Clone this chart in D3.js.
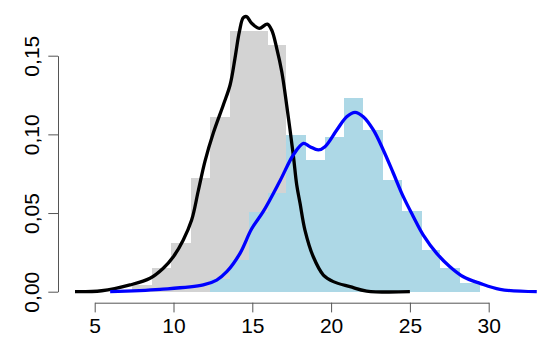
<!DOCTYPE html>
<html>
<head>
<meta charset="utf-8">
<script src="https://cdn.jsdelivr.net/npm/d3@7"></script>
<style>
  body { margin: 0; background: #fff; }
  .axis text { font: 21px "Liberation Sans", Arial, sans-serif; fill: #000; }
  .axis path, .axis line { stroke: #555; stroke-width: 1px; }
</style>
</head>
<body>
<svg id="chart" width="549" height="342"></svg>
<script>
// histogram breaks and densities
var grayBreaks  = [7.37, 8.62, 9.87, 11.08, 12.31, 13.57, 14.76, 16.0, 17.14, 18.41, 19.6, 20.81];
var grayDensity = [0.004, 0.0149, 0.0308, 0.072, 0.111, 0.166, 0.166, 0.157, 0.06, 0.015, 0.005];

var blueBreaks  = [12.31, 13.57, 14.76, 16.0, 17.14, 18.41, 19.6, 20.81, 22.04, 23.27, 24.48, 25.75, 26.94, 28.17, 29.45];
var blueDensity = [0.008, 0.020, 0.0508, 0.0625, 0.0996, 0.0837, 0.0985, 0.123, 0.103, 0.071, 0.0513, 0.0265, 0.0149, 0.0053];

// kernel density curves, traced
var grayCurveX = [3.75, 5.44, 7.24, 8.51, 9.35, 9.99, 10.62, 11.15, 11.57, 12.0, 12.53, 13.16, 13.59, 13.9, 14.18, 14.43, 14.64, 14.96, 15.44, 15.95, 16.23, 16.55, 16.87, 17.18, 17.6, 17.82, 18.03, 18.34, 18.87, 19.51, 20.14, 21.2, 22.26, 25.0];
var grayCurveY = [0, 0.0006, 0.0043, 0.0085, 0.0149, 0.0222, 0.0329, 0.0455, 0.0640, 0.0830, 0.1010, 0.1187, 0.1314, 0.1483, 0.1653, 0.1742, 0.1748, 0.1706, 0.1674, 0.170, 0.1663, 0.1547, 0.1398, 0.1187, 0.0869, 0.0678, 0.0562, 0.0392, 0.0222, 0.0106, 0.0064, 0.0032, 0.0004, 0];

var blueCurveX = [5.98, 9.14, 11.89, 12.74, 13.38, 14.22, 14.96, 15.7, 16.76, 17.6, 18.24, 18.66, 19.19, 19.61, 20.36, 20.99, 21.52, 22.04, 22.68, 23.31, 23.95, 24.58, 25.22, 25.85, 26.7, 27.54, 28.39, 29.45, 30.72, 33.05];
var blueCurveY = [0, 0.0015, 0.0043, 0.0074, 0.0127, 0.0244, 0.0400, 0.0510, 0.0705, 0.0869, 0.0943, 0.0922, 0.0901, 0.0922, 0.1028, 0.1112, 0.114, 0.1112, 0.1028, 0.0901, 0.0753, 0.0604, 0.0477, 0.036, 0.0244, 0.0159, 0.0095, 0.0053, 0.0015, 0];

var xTicks = [5, 10, 15, 20, 25, 30];
var yTicks = [0, 0.05, 0.10, 0.15];

var svg = d3.select("#chart");

var x = d3.scaleLinear().domain([5, 30]).range([94.7, 488.7]);
var y = d3.scaleLinear().domain([0, 0.15]).range([291.7, 55.7]);

var locale = d3.formatLocale({ decimal: ",", thousands: ".", grouping: [3], currency: ["", ""] });
var fmt = locale.format(".2f");

function bins(breaks, dens) {
  return dens.map(function(d, i) { return { x0: breaks[i], x1: breaks[i + 1], d: d }; });
}

function drawHist(data, fill) {
  svg.append("g").selectAll("rect")
    .data(data)
    .enter().append("rect")
      .attr("x", function(b) { return x(b.x0); })
      .attr("width", function(b) { return x(b.x1) - x(b.x0); })
      .attr("y", function(b) { return y(b.d); })
      .attr("height", function(b) { return y(0) - y(b.d); })
      .attr("fill", fill)
      .attr("shape-rendering", "crispEdges");
}

drawHist(bins(grayBreaks, grayDensity), "#d3d3d3");
drawHist(bins(blueBreaks, blueDensity), "#add8e6");

var line = d3.line()
  .x(function(p) { return x(p[0]); })
  .y(function(p) { return y(p[1]); })
  .curve(d3.curveCatmullRom.alpha(0.5));

svg.append("path")
  .datum(d3.zip(grayCurveX, grayCurveY))
  .attr("d", line)
  .attr("fill", "none")
  .attr("stroke", "#000")
  .attr("stroke-width", 3.3)
  .attr("stroke-linejoin", "round");

svg.append("path")
  .datum(d3.zip(blueCurveX, blueCurveY))
  .attr("d", line)
  .attr("fill", "none")
  .attr("stroke", "#0000ff")
  .attr("stroke-width", 3.3)
  .attr("stroke-linejoin", "round");

// axes, R style
svg.append("g")
  .attr("class", "axis")
  .attr("transform", "translate(0,302.7)")
  .call(d3.axisBottom(x).tickValues(xTicks).tickSize(9.7).tickSizeOuter(0).tickPadding(6));

var yAxis = svg.append("g")
  .attr("class", "axis")
  .attr("transform", "translate(58,0)")
  .call(d3.axisLeft(y).tickValues(yTicks).tickFormat(fmt).tickSize(9.7).tickSizeOuter(0));

yAxis.selectAll(".tick text")
  .attr("transform", "rotate(-90)")
  .attr("x", 0)
  .attr("y", -19.5)
  .attr("dy", 0)
  .attr("text-anchor", "middle");
</script>
</body>
</html>
